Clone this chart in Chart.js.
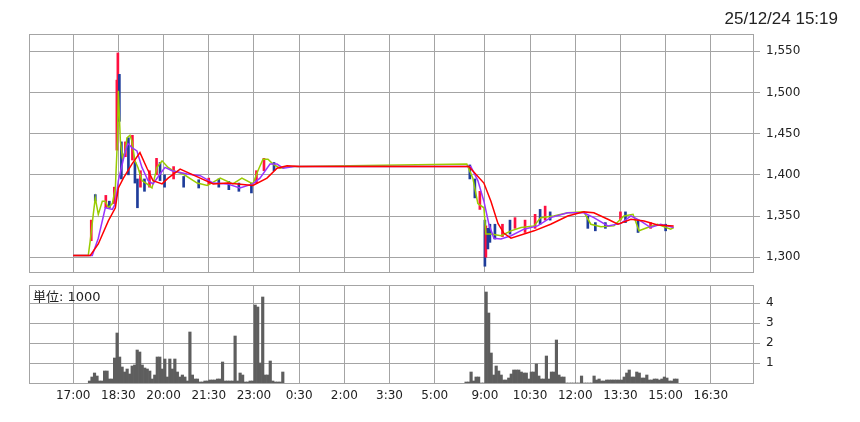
<!DOCTYPE html>
<html>
<head>
<meta charset="utf-8">
<script src="https://cdn.jsdelivr.net/npm/chart.js@4.4.1/dist/chart.umd.min.js"></script>
<style>
  body { margin: 0; background: #fff; width: 860px; height: 422px; position: relative; overflow: hidden; }
  canvas { position: absolute; left: 0; }
  #price { top: 0; }
  #vol { top: 280px; }
  #stamp { position: absolute; right: 22px; top: 9px; font: 17px "Liberation Sans", Arial, sans-serif; color: #222; }
  #unit { position: absolute; left: 33px; top: 286px; font: 13px "DejaVu Sans", "Noto Sans CJK JP", sans-serif; color: #222; }
</style>
</head>
<body>
<canvas id="price" width="860" height="280"></canvas>
<canvas id="vol" width="860" height="142"></canvas>
<div id="stamp">25/12/24 15:19</div>
<div id="unit">単位: 1000</div>
<script>
// time axis labels (night session 17:00-6:00, day session from 8:45)
const timeLabels = ["17:00","18:30","20:00","21:30","23:00","0:30","2:00","3:30","5:00","9:00","10:30","12:00","13:30","15:00","16:30"];
const priceTicks = [1300, 1350, 1400, 1450, 1500, 1550];
const volTicks = [1, 2, 3, 4];

// moving averages: [time, price]
const maShort = [
  ["17:00",1302],["17:30",1302],["17:34",1320],["17:40",1352],["17:44",1372],["17:50",1352],["17:58",1368],
  ["18:04",1368],["18:10",1360],["18:18",1365],["18:24",1384],["18:28",1441],["18:30",1502],["18:34",1441],
  ["18:38",1421],["18:44",1429],["18:47",1445],["18:53",1448],["18:57",1441],["19:03",1417],["19:09",1409],
  ["19:17",1393],["19:27",1389],["19:37",1384],["19:47",1409],["19:57",1417],["20:09",1409],["20:19",1405],
  ["20:39",1401],["21:07",1390],["21:27",1387],["21:53",1396],["22:18",1389],["22:36",1396],["22:58",1389],
  ["23:08",1405],["23:18",1419],["23:28",1419],["23:38",1413],["23:52",1408],["0:10",1410],["0:30",1410],
  ["8:24",1413],["8:36",1396],["8:46",1365],["8:58",1360],["9:02",1328],["9:12",1328],["9:32",1326],
  ["9:52",1332],["10:12",1336],["10:38",1338],["10:51",1348],["11:17",1350],["11:45",1354],["12:17",1355],
  ["12:31",1340],["12:51",1337],["13:17",1338],["13:37",1350],["13:55",1352],["14:07",1332],["14:24",1336],
  ["14:44",1340],["15:10",1334],["15:16",1336]
];
const maMid = [
  ["17:00",1302],["17:38",1302],["17:50",1323],["18:04",1360],["18:18",1358],["18:24",1365],["18:30",1393],
  ["18:44",1429],["18:49",1438],["18:57",1433],["19:07",1429],["19:17",1409],["19:29",1393],["19:39",1389],
  ["19:53",1401],["20:03",1409],["20:17",1405],["20:47",1401],["21:13",1399],["21:39",1390],["22:07",1389],
  ["22:32",1384],["22:58",1389],["23:12",1396],["23:32",1413],["23:46",1413],["23:58",1408],["0:20",1410],
  ["8:32",1410],["8:46",1393],["8:58",1368],["9:08",1340],["9:18",1323],["9:32",1322],["9:52",1326],
  ["10:18",1334],["10:45",1338],["11:11",1348],["11:45",1354],["12:17",1354],["12:37",1348],["13:05",1338],
  ["13:31",1341],["13:51",1350],["14:10",1344],["14:30",1336],["14:50",1340],["15:16",1336]
];
const maLong = [
  ["17:00",1302],["17:34",1302],["17:50",1316],["18:10",1344],["18:24",1360],["18:30",1384],["18:40",1396],
  ["18:57",1413],["19:13",1427],["19:27",1408],["19:39",1393],["19:57",1389],["20:09",1396],["20:33",1407],
  ["21:13",1396],["21:39",1389],["22:07",1390],["22:58",1387],["23:26",1396],["23:46",1408],["0:06",1411],
  ["0:30",1410],["8:28",1410],["8:58",1390],["9:12",1368],["9:26",1341],["9:38",1329],["9:52",1323],
  ["10:38",1332],["11:11",1340],["11:45",1350],["12:17",1355],["12:37",1354],["13:05",1346],["13:25",1340],
  ["13:51",1346],["14:17",1344],["14:44",1339],["15:16",1338]
];

// candle bodies/wicks: [time, low, high, up]
const candles = [
  ["17:36",1320,1345,1],["17:44",1368,1376,0],["18:05",1360,1375,1],["18:12",1360,1368,0],
  ["18:22",1365,1385,1],["18:27",1430,1515,1],["18:29",1498,1548,1],["18:32",1465,1522,0],
  ["18:36",1395,1440,0],["18:44",1422,1440,1],["18:50",1400,1445,0],["18:58",1418,1448,1],
  ["19:03",1390,1415,0],["19:08",1360,1395,0],["19:14",1385,1405,1],["19:22",1380,1395,0],
  ["19:32",1385,1405,1],["19:46",1400,1420,1],["19:53",1393,1415,0],["20:02",1385,1400,0],
  ["20:20",1395,1410,1],["20:40",1385,1398,0],["21:10",1384,1394,0],["21:30",1388,1396,1],
  ["21:50",1385,1395,0],["22:10",1382,1392,0],["22:30",1380,1390,0],["22:55",1378,1390,0],
  ["23:05",1390,1405,1],["23:20",1405,1420,1],["23:40",1405,1415,0],
  ["8:30",1395,1412,0],["8:40",1372,1395,0],["8:50",1358,1380,1],["9:00",1289,1345,0],
  ["9:02",1300,1338,1],["9:06",1310,1335,0],["9:10",1318,1340,0],["9:20",1322,1340,0],
  ["9:35",1325,1340,1],["9:50",1328,1345,0],["10:00",1335,1348,1],["10:20",1330,1345,1],
  ["10:40",1335,1352,1],["10:50",1340,1358,0],["11:00",1345,1362,1],["11:10",1345,1355,0],
  ["12:25",1335,1350,0],["12:40",1332,1342,0],["13:00",1335,1342,0],["13:30",1345,1355,1],
  ["13:40",1342,1355,0],["14:05",1330,1345,0],["14:30",1335,1342,1],["15:00",1332,1340,0]
];

// volume in thousands, 5-minute bars
const nightVolStart = "17:30";
const nightVol = [
  0.1,0.3,0.5,0.35,0.1,0.1, 0.6,0.6,0.2,0.2,1.25,2.5, 1.3,0.8,0.55,0.7,0.45,0.85,
  0.9,1.65,1.55,0.9,0.75,0.7, 0.6,0.2,0.4,1.3,1.3,0.7, 1.2,0.3,1.2,0.7,1.2,0.55,
  0.3,0.4,0.3,0.1,2.55,0.4, 0.2,0.2,0.05,0.05,0.1,0.1, 0.15,0.15,0.15,0.2,0.2,1.05,
  0.1,0.1,0.1,0.1,2.35,0.1, 0.5,0.4,0.05,0.05,0.1,0.1, 3.9,3.8,1.0,4.3,0.4,0.4,
  1.1,0.1,0.05,0.05,0.05,0.55
];
const dayVolStart = "8:20";
const dayVol = [
  0.05,0.05,0.55,0.1,0.3,0.3,0,0,
  4.55,3.5,1.5,0.4,0.85,0.6, 0.4,0.15,0.15,0.25,0.45,0.65, 0.65,0.65,0.55,0.5,0.5,0.2,
  0.55,0.55,0.95,0.35,0.2,0.2, 1.35,0.2,0.55,0.55,2.15,0.4, 0.3,0.3,0,0,0,0,
  0,0,0.35,0,0,0, 0,0.35,0.15,0.2,0.1,0.1, 0.15,0.15,0.15,0.15,0.15,0.15,
  0.15,0.3,0.5,0.65,0.3,0.3, 0.55,0.5,0.25,0.25,0.4,0.15, 0.15,0.2,0.2,0.15,0.2,0.3,
  0.25,0.1,0.1,0.2,0.2
];

const GRID = "#a4a4a4";
const TICK_FONT = { family: "DejaVu Sans", size: 12 };

// axis position: night minutes since 17:00, day starts at 820 for 9:00
function toX(t) {
  const [h, m] = t.split(":").map(Number);
  const mins = h * 60 + m;
  if (h >= 8 && h < 17) return 820 + (mins - 540);
  return (mins - 1020 + 1440) % 1440;
}

function addMinutes(t, n) {
  const [h, m] = t.split(":").map(Number);
  const total = (h * 60 + m + n) % 1440;
  return Math.floor(total / 60) + ":" + String(total % 60).padStart(2, "0");
}

function volPoints(start, vals) {
  return vals.map((v, i) => ({ x: toX(addMinutes(start, i * 5)) + 2.5, y: v }));
}

const boxPlugin = {
  id: "box",
  afterDraw(chart) {
    const { ctx, chartArea: a } = chart;
    ctx.save();
    ctx.strokeStyle = GRID;
    ctx.lineWidth = 1;
    ctx.strokeRect(a.left + 0.5, a.top + 0.5, a.right - a.left, a.bottom - a.top);
    ctx.restore();
  }
};

function xScale(showLabels, height) {
  return {
    type: "linear", min: -88, max: 1354, offset: false,
    afterBuildTicks: s => { s.ticks = timeLabels.map(l => ({ value: toX(l) })); },
    afterFit: s => { s.height = height; s.paddingLeft = 0; s.paddingRight = 0; },
    grid: { color: GRID, drawTicks: false, offset: false },
    border: { display: false },
    ticks: {
      display: showLabels, autoSkip: false, maxRotation: 0, padding: 6,
      color: "#222", font: TICK_FONT,
      callback: (v, i) => timeLabels[i]
    }
  };
}

function yScale(min, max, ticks, fmt) {
  return {
    position: "right", min, max,
    afterBuildTicks: s => { s.ticks = ticks.map(v => ({ value: v })); },
    // fixed width, and no extra room for the edge labels
    afterFit: s => { s.width = 107; s.paddingTop = 0; s.paddingBottom = 0; },
    grid: { color: GRID, tickLength: 7 },
    border: { display: false },
    ticks: { padding: 6, color: "#222", font: TICK_FONT, callback: fmt }
  };
}

const line = (pts, color) => ({
  type: "line",
  data: pts.map(p => ({ x: toX(p[0]), y: p[1] })),
  borderColor: color, borderWidth: 1.5, pointRadius: 0, tension: 0
});

new Chart(document.getElementById("price"), {
  type: "line",
  data: {
    datasets: [
      line(maLong, "#ff0000"),
      line(maMid, "#9933ff"),
      line(maShort, "#99cc00"),
      {
        type: "bar",
        data: candles.map(c => ({ x: toX(c[0]), y: [c[1], c[2]] })),
        backgroundColor: candles.map(c => c[3] ? "#ff1040" : "#1e3c9a"),
        barThickness: 2
      }
    ]
  },
  options: {
    responsive: false, animation: false,
    layout: { padding: { left: 29, top: 34, right: 0, bottom: 8 } },
    plugins: { legend: { display: false }, tooltip: { enabled: false } },
    scales: {
      x: xScale(false, 0),
      y: yScale(1282, 1571, priceTicks, v => v.toLocaleString("en-US"))
    }
  },
  plugins: [boxPlugin]
});

new Chart(document.getElementById("vol"), {
  type: "bar",
  data: {
    datasets: [{
      data: volPoints(nightVolStart, nightVol).concat(volPoints(dayVolStart, dayVol)),
      backgroundColor: "#5e5e5e",
      barPercentage: 1, categoryPercentage: 1
    }]
  },
  options: {
    responsive: false, animation: false,
    layout: { padding: { left: 29, top: 5, right: 0, bottom: 0 } },
    plugins: { legend: { display: false }, tooltip: { enabled: false } },
    scales: {
      x: xScale(true, 39),
      y: yScale(0, 4.9, volTicks, v => String(v))
    }
  },
  plugins: [boxPlugin]
});
</script>
</body>
</html>
